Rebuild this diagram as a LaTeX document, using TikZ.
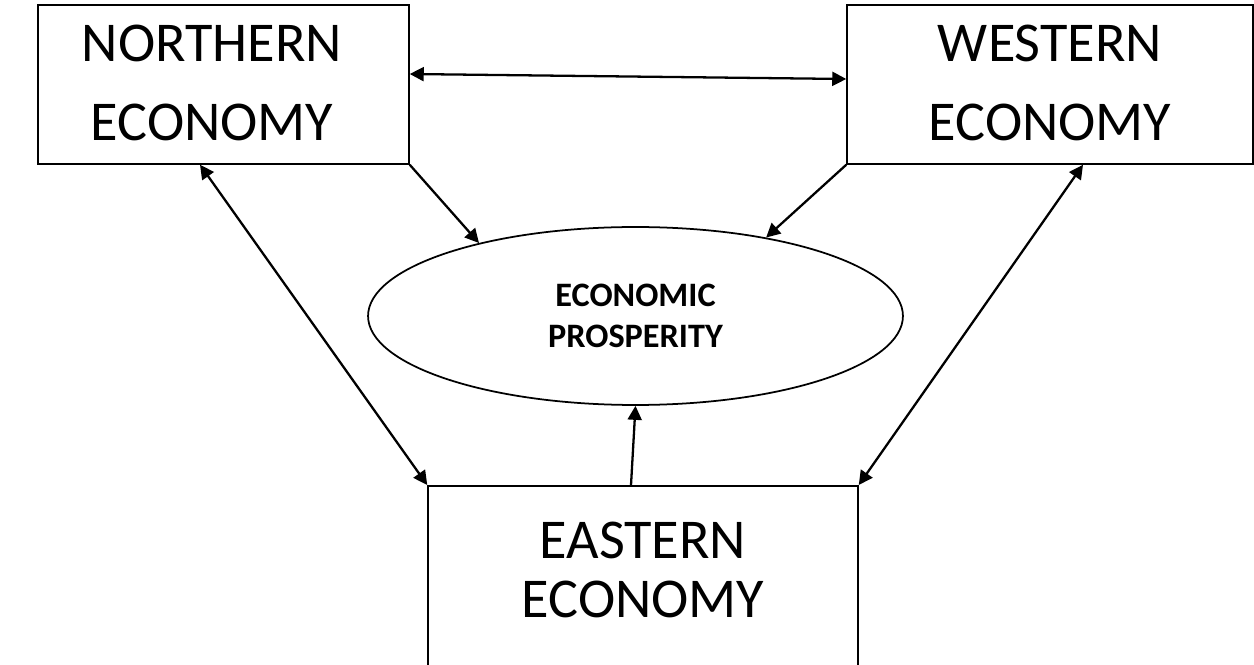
\documentclass[tikz,border=0pt]{standalone}
\usepackage{fontspec}
\setmainfont{Carlito}
\usetikzlibrary{arrows.meta}
\usetikzlibrary{shapes.geometric}
\tikzset{
    econbox/.style = {rectangle, draw=black, line width=0.9pt, minimum height=3.18cm, inner sep=0pt},
    boxtext/.style = {align=center, inner sep=0pt, font=\fontsize{32}{45}\selectfont},
    prosp_node/.style = {ellipse, draw=black, line width=1pt, minimum width=10.7cm, minimum height=3.56cm, align=center, inner sep=0pt, font=\fontsize{19.5}{23}\selectfont\bfseries},
    link/.style = {line width=1.3pt}
}

\begin{document}
\begin{tikzpicture}[x=0.02cm, y=-0.02cm, >={Triangle[length=0.28cm,width=0.28cm]}]
    \useasboundingbox (0,0) rectangle (1254,665);
    % the three economies
    \node (north) [econbox, minimum width=7.42cm] at (223.5,84.5) {};
    \node (west) [econbox, minimum width=8.12cm] at (1050,84.5) {};
    \node (east) [econbox, minimum width=8.6cm, minimum height=4cm, anchor=north] at (643,485) {};
    \node (northtext) [boxtext] at ([xshift=-0.23cm,yshift=0.03cm]north.center) {NORTHERN\\ECONOMY};
    \node (westtext) [boxtext] at ([yshift=0.03cm]west.center) {WESTERN\\ECONOMY};
    \node (easttext) [boxtext, font=\fontsize{32}{34}\selectfont] at ([yshift=-1.7cm]east.north) {EASTERN\\ECONOMY};
    % the ellipse in the middle
    \node (prosp) [prosp_node] at (635.5,316) {ECONOMIC\\PROSPERITY};
    % links
    \draw [link, <->] ([yshift=0.21cm]north.east) -- ([yshift=0.11cm]west.west);
    \draw [link, ->] (north.south east) -- (prosp.155);
    \draw [link, ->] (west.south west) -- (prosp.31);
    \draw [link, ->] ([xshift=-0.24cm]east.north) -- (prosp.south);
    \draw [link, <->] ([xshift=-0.47cm]north.south) -- (east.north west);
    \draw [link, <->] ([xshift=0.66cm]west.south) -- (east.north east);
\end{tikzpicture}
\end{document}
